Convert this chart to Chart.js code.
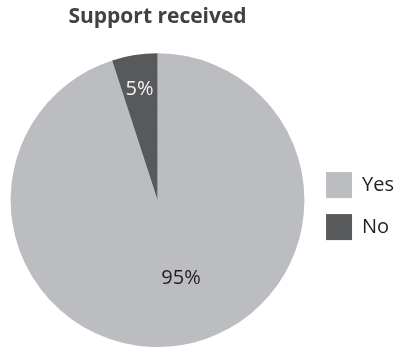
<!DOCTYPE html>
<html>
<head>
<meta charset="utf-8">
<script src="https://cdn.jsdelivr.net/npm/chart.js@4"></script>
<style>
  html, body { margin: 0; padding: 0; background: #fff; }
  #wrap { width: 394px; height: 347px; }
</style>
</head>
<body>
<div id="wrap"><canvas id="pie"></canvas></div>
<script>
const categories = ['Yes', 'No'];
const shares = [95, 5];
const sliceColors = ['#bcbdc0', '#58595b'];
const labelColors = ['#231f20', '#f2f2f2'];

// slice labels: fraction of radius from the centre, (dx, dy)
const labelSpots = [[0.16, 0.535], [-0.123, -0.755]];

const sliceLabels = {
  id: 'sliceLabels',
  afterDatasetsDraw(chart) {
    const ctx = chart.ctx;
    const arcs = chart.getDatasetMeta(0).data;
    ctx.save();
    ctx.font = '20px "Open Sans"';
    ctx.textAlign = 'center';
    ctx.textBaseline = 'middle';
    arcs.forEach((arc, i) => {
      const r = arc.outerRadius;
      ctx.fillStyle = labelColors[i];
      ctx.fillText(shares[i] + '%', arc.x + labelSpots[i][0] * r, arc.y + labelSpots[i][1] * r);
    });
    ctx.restore();
  }
};

new Chart(document.getElementById('pie'), {
  type: 'pie',
  data: {
    labels: categories,
    datasets: [{
      data: shares,
      backgroundColor: sliceColors,
      borderWidth: 0,
      hoverOffset: 0
    }]
  },
  options: {
    responsive: true,
    maintainAspectRatio: false,
    animation: false,
    layout: { padding: { left: 5, right: -10, top: 0, bottom: 0 } },
    plugins: {
      title: {
        display: true,
        fullSize: false,
        text: 'Support received',
        color: '#414042',
        font: { family: '"Open Sans"', size: 21, weight: 'bold' },
        padding: { top: 4, bottom: 24 }
      },
      legend: {
        position: 'right',
        // empty title only pushes the items down
        title: {
          display: true,
          text: '',
          font: { size: 1 },
          padding: { top: 64, bottom: 0 }
        },
        labels: {
          color: '#231f20',
          font: { family: '"Open Sans"', size: 20 },
          boxWidth: 26,
          boxHeight: 26,
          padding: 16
        }
      },
      tooltip: { enabled: false }
    }
  },
  plugins: [sliceLabels]
});
</script>
</body>
</html>
